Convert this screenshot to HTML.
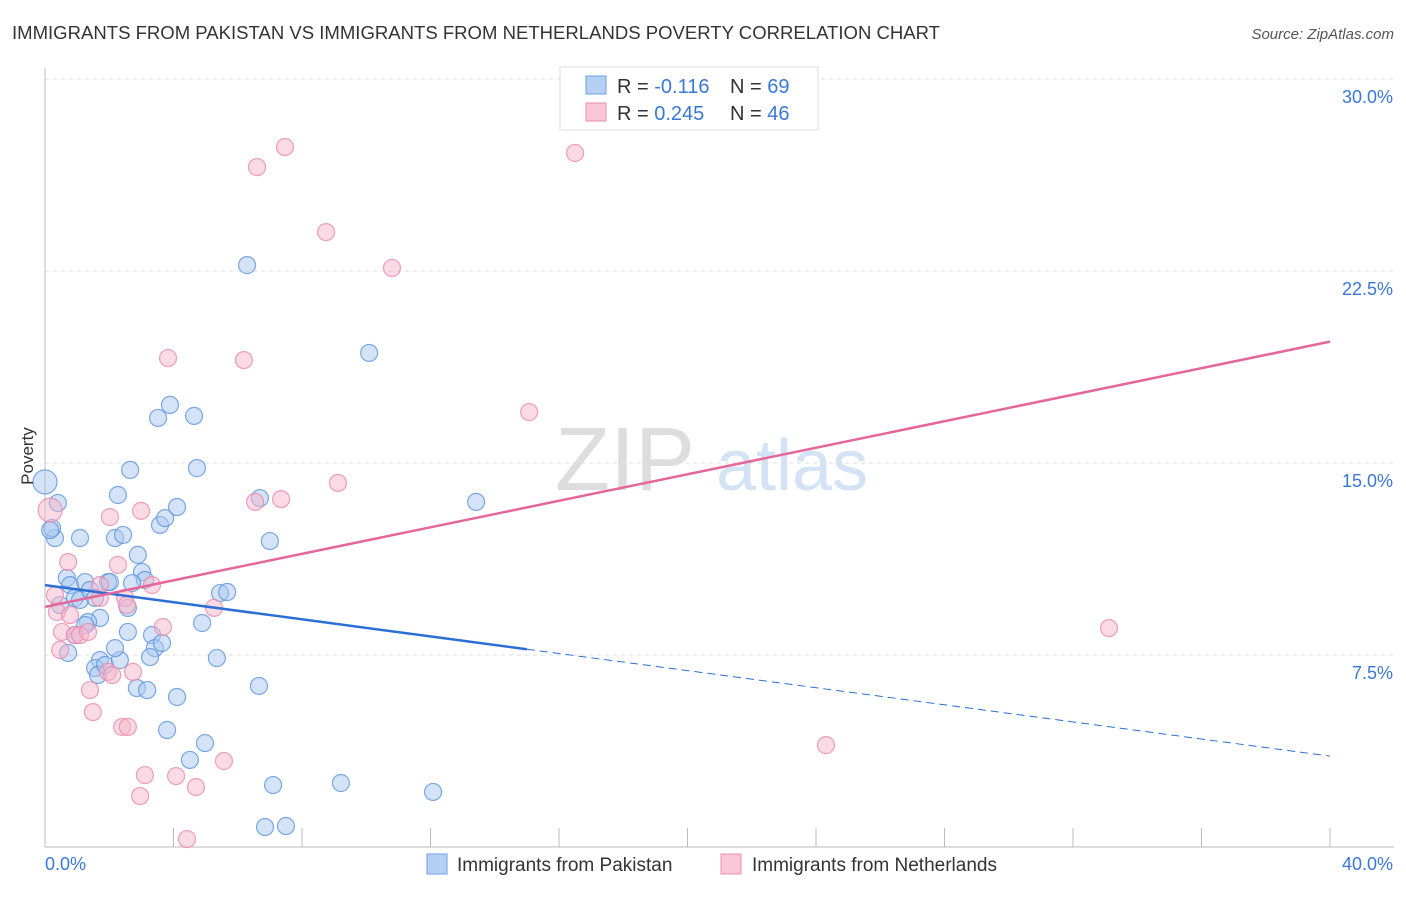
<!DOCTYPE html>
<html><head><meta charset="utf-8"><style>
body{margin:0;background:#fff;font-family:"Liberation Sans",sans-serif;}
svg text{font-family:"Liberation Sans",sans-serif;}
</style></head><body>
<svg id="chart" width="1406" height="892">
<text x="12" y="39" font-size="18" fill="#333" textLength="928" lengthAdjust="spacingAndGlyphs">IMMIGRANTS FROM PAKISTAN VS IMMIGRANTS FROM NETHERLANDS POVERTY CORRELATION CHART</text>
<text x="1394" y="39" font-size="15" fill="#555" font-style="italic" text-anchor="end">Source: ZipAtlas.com</text>
<g>
<text x="555" y="490" font-size="90" fill="#ddd" font-family="Liberation Serif">ZIP</text>
<text x="716" y="490" font-size="72" fill="#d3e2f4">atlas</text>
</g>
<g id="grid"></g>
<g id="axes"></g>
<g id="points"></g>
<g id="trends"></g>
<text x="33" y="456" font-size="17" fill="#333" transform="rotate(-90 33 456)" text-anchor="middle">Poverty</text>
<g>
<rect x="560" y="67" width="258" height="63" fill="#fff" stroke="#ddd"/>
<rect x="586" y="76" width="20" height="18" fill="#b5d0f3" stroke="#6f9fe0"/>
<text x="617" y="93" font-size="20" fill="#333">R = <tspan fill="#3a78d8">-0.116</tspan></text>
<text x="730" y="93" font-size="20" fill="#333">N = <tspan fill="#3a78d8">69</tspan></text>
<rect x="586" y="103" width="20" height="18" fill="#f8c6d6" stroke="#e890b0"/>
<text x="617" y="120" font-size="20" fill="#333">R = <tspan fill="#3a78d8">0.245</tspan></text>
<text x="730" y="120" font-size="20" fill="#333">N = <tspan fill="#3a78d8">46</tspan></text>
</g>
<g>
<rect x="427" y="854" width="20" height="20" fill="#b5d0f3" stroke="#6f9fe0"/>
<text x="457" y="871" font-size="19" fill="#333">Immigrants from Pakistan</text>
<rect x="721" y="854" width="20" height="20" fill="#f8c6d6" stroke="#e890b0"/>
<text x="752" y="871" font-size="19" fill="#333">Immigrants from Netherlands</text>
</g>
</svg>
<script>
const yTicks=[7.5,15,22.5,30];
const yTickLabels=["7.5%","15.0%","22.5%","30.0%"];
const xTickCount=10;
const xMax=40;
const blueX=[0.0,0.31,0.22,0.40,0.16,0.68,0.78,1.25,0.93,1.09,0.47,1.40,1.56,1.96,2.02,1.09,2.18,2.43,2.27,2.65,2.89,3.02,3.11,2.71,2.58,1.71,1.34,1.25,0.93,0.72,1.71,1.56,1.65,1.87,2.33,2.18,2.58,3.33,3.42,3.64,3.27,2.86,3.18,4.11,3.80,4.51,4.98,5.35,4.89,5.45,5.67,3.58,3.74,4.11,3.52,3.89,4.64,4.73,6.29,6.69,7.00,6.66,7.10,6.85,7.50,9.21,10.09,12.08,13.42];
const blueY=[14.26,12.07,12.46,13.44,12.38,10.51,10.23,10.35,9.73,9.65,9.45,10.04,9.73,10.35,10.35,12.07,12.07,12.19,13.75,14.73,11.41,10.74,10.43,10.31,9.34,8.95,8.79,8.67,8.28,7.58,7.30,6.99,6.72,7.11,7.30,7.77,8.40,8.28,7.77,7.97,7.42,6.21,6.13,5.86,4.57,3.40,4.06,7.38,8.75,9.92,9.96,12.58,12.85,13.28,16.76,17.27,16.84,14.80,22.73,13.63,11.95,6.29,2.42,0.78,0.82,2.50,19.30,2.15,13.48];
const pinkX=[0.16,0.31,0.37,0.53,0.72,0.78,0.93,1.09,1.34,1.40,1.49,1.71,1.96,2.09,2.02,2.27,2.49,2.55,2.40,2.58,2.74,2.99,3.33,3.67,3.11,2.96,3.83,4.08,4.42,4.70,5.26,5.57,6.19,6.60,6.54,7.35,7.47,8.75,9.12,10.80,15.07,16.50,24.31,33.12,1.71,0.47];
const pinkY=[13.16,9.84,9.18,8.40,11.13,9.06,8.28,8.28,8.40,6.13,5.27,9.73,6.84,6.72,12.89,11.02,9.73,9.45,4.69,4.69,6.84,13.13,10.23,8.59,2.81,1.99,19.10,2.77,0.31,2.34,9.34,3.36,19.02,26.56,13.48,13.59,27.34,24.02,14.22,22.62,16.99,27.11,3.98,8.55,10.23,7.70];
const blueTrend=[10.23,-0.167];
const pinkTrend=[9.38,0.259];
const blueSolidEnd=15;

const NS="http://www.w3.org/2000/svg";
const X0=45,X1=1330,Y0=847,YPX=25.6;
const sx=v=>X0+(X1-X0)*v/xMax;
const sy=v=>Y0-v*YPX;
function mk(tag,attrs,parent){const e=document.createElementNS(NS,tag);for(const k in attrs)e.setAttribute(k,attrs[k]);document.getElementById(parent).appendChild(e);return e;}
yTicks.forEach((t,i)=>{
 let l=mk('line',{x1:X0,x2:1394,y1:sy(t),y2:sy(t),stroke:'#ddd','stroke-dasharray':'4,4'},'grid');
 
 
 let tx=mk('text',{x:1393,y:sy(t)+24,'font-size':18,fill:'#3a78d8','text-anchor':'end'},'grid');
 tx.textContent=yTickLabels[i];
 
 
});
let ax=mk('line',{x1:X0,x2:X0,y1:68,y2:Y0,stroke:'#bbb'},'axes');


let bx=mk('line',{x1:X0,x2:1394,y1:Y0,y2:Y0,stroke:'#bbb'},'axes');


for(let i=1;i<=xTickCount;i++){
 let t=mk('line',{x1:sx(xMax*i/xTickCount),x2:sx(xMax*i/xTickCount),y1:828,y2:Y0,stroke:'#bbb'},'axes');
 
 
}
let l0=mk('text',{x:45,y:870,'font-size':18,fill:'#3a78d8'},'axes');l0.textContent='0.0%';


let l1=mk('text',{x:1393,y:870,'font-size':18,fill:'#3a78d8','text-anchor':'end'},'axes');l1.textContent='40.0%';


function pts(xs,ys,fill,stroke,name){
 xs.forEach((x,i)=>{
  const r=(i===0)?12:8.5;
  let c=mk('circle',{cx:sx(x),cy:sy(ys[i]),r:r,fill:fill,'fill-opacity':0.5,stroke:stroke,'stroke-opacity':0.8,'stroke-width':1.2},'points');
  
  
 });
}
pts(blueX,blueY,'#a9c7f0','#5d93de','point-pakistan');
pts(pinkX,pinkY,'#f5b6ca','#e88aab','point-netherlands');
const f=(t,x)=>t[0]+t[1]*x;
let b1=mk('line',{x1:sx(0),y1:sy(f(blueTrend,0)),x2:sx(blueSolidEnd),y2:sy(f(blueTrend,blueSolidEnd)),stroke:'#2b6fd6','stroke-width':2.5},'trends');


let b2=mk('line',{x1:sx(blueSolidEnd),y1:sy(f(blueTrend,blueSolidEnd)),x2:sx(xMax),y2:sy(f(blueTrend,xMax)),stroke:'#2b6fd6','stroke-width':1,'stroke-dasharray':'8,5'},'trends');


let p1=mk('line',{x1:sx(0),y1:sy(f(pinkTrend,0)),x2:sx(xMax),y2:sy(f(pinkTrend,xMax)),stroke:'#e4669a','stroke-width':2.5},'trends');


</script>
</body></html>
